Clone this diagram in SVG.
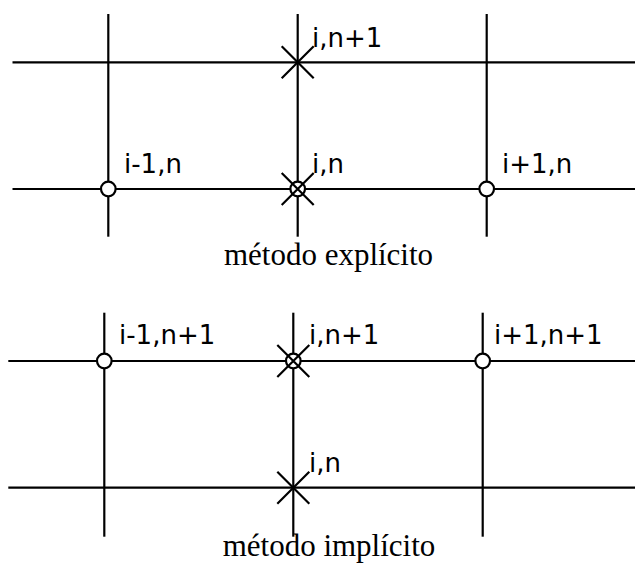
<svg xmlns="http://www.w3.org/2000/svg" width="635" height="571" viewBox="0 0 635 571">
<style>
.ln{stroke:#000;stroke-width:2.2;fill:none}
.pt{stroke:#000;stroke-width:2.2;fill:#fff}
.lb{font-family:"DejaVu Sans",sans-serif;font-size:26px;fill:#000}
.cap{font-family:"Liberation Serif",serif;font-size:31px;fill:#000;text-anchor:middle}
</style>
<defs>
<g id="xm"><path class="ln" d="M-16,-16L16,16M-16,16L16,-16"/></g>
</defs>
<rect width="635" height="571" fill="#fff"/>
<g id="connectors">
<line class="ln" x1="12.5" y1="62.3" x2="635" y2="62.3"/>
<line class="ln" x1="12.5" y1="189" x2="635" y2="189"/>
<line class="ln" x1="108.3" y1="14" x2="108.3" y2="236.7"/>
<line class="ln" x1="297.7" y1="14" x2="297.7" y2="236.7"/>
<line class="ln" x1="486.7" y1="14" x2="486.7" y2="236.7"/>
<line class="ln" x1="8.3" y1="361" x2="635" y2="361"/>
<line class="ln" x1="8.3" y1="487.7" x2="635" y2="487.7"/>
<line class="ln" x1="104.3" y1="312.7" x2="104.3" y2="536.7"/>
<line class="ln" x1="293.3" y1="312.7" x2="293.3" y2="536.7"/>
<line class="ln" x1="482.7" y1="312.7" x2="482.7" y2="536.7"/>
</g>
<g id="e_i_n1">
<use href="#xm" x="297.7" y="62.3"/>
<text class="lb" x="312" y="47">i,n+1</text>
</g>
<g id="e_im1_n">
<circle class="pt" cx="108.3" cy="189" r="7.3"/>
<text class="lb" x="124" y="173">i-1,n</text>
</g>
<g id="e_i_n">
<circle class="pt" cx="297.7" cy="189" r="7.3"/>
<use href="#xm" x="297.7" y="189"/>
<text class="lb" x="312" y="173">i,n</text>
</g>
<g id="e_ip1_n">
<circle class="pt" cx="486.7" cy="189" r="7.3"/>
<text class="lb" x="502" y="173">i+1,n</text>
</g>
<text class="cap" x="328.5" y="265">método explícito</text>
<g id="m_im1_n1">
<circle class="pt" cx="104.3" cy="361" r="7.3"/>
<text class="lb" x="119" y="344">i-1,n+1</text>
</g>
<g id="m_i_n1">
<circle class="pt" cx="293.3" cy="361" r="7.3"/>
<use href="#xm" x="293.3" y="361"/>
<text class="lb" x="309" y="344">i,n+1</text>
</g>
<g id="m_ip1_n1">
<circle class="pt" cx="482.7" cy="361" r="7.3"/>
<text class="lb" x="494" y="344">i+1,n+1</text>
</g>
<g id="m_i_n">
<use href="#xm" x="293.3" y="487.7"/>
<text class="lb" x="309" y="471.7">i,n</text>
</g>
<text class="cap" x="329" y="556">método implícito</text>
</svg>
